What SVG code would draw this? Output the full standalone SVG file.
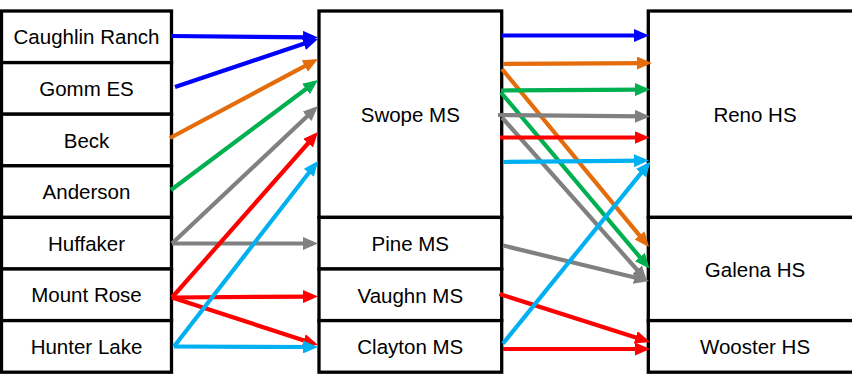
<svg xmlns="http://www.w3.org/2000/svg" width="852" height="376" viewBox="0 0 852 376">
<style>
.box{fill:#fff;stroke:#000;stroke-width:3.3}
.t{font-family:"Liberation Sans",Arial,sans-serif;font-size:20.5px;fill:#000;text-anchor:middle}
.c line{stroke-width:4.2;fill:none}
.bl{stroke:#0000FF;marker-end:url(#mbl)}
.or{stroke:#E46C0A;marker-end:url(#mor)}
.gr{stroke:#00B050;marker-end:url(#mgr)}
.gy{stroke:#808080;marker-end:url(#mgy)}
.rd{stroke:#FF0000;marker-end:url(#mrd)}
.cy{stroke:#00B0F0;marker-end:url(#mcy)}
</style>
<defs>
<marker id="mbl" markerUnits="userSpaceOnUse" markerWidth="15" markerHeight="13" viewBox="0 0 15 13" refX="10" refY="6.5" orient="auto"><path d="M0,0 L15,6.5 L0,13 z" fill="#0000FF"/></marker>
<marker id="mor" markerUnits="userSpaceOnUse" markerWidth="15" markerHeight="13" viewBox="0 0 15 13" refX="10" refY="6.5" orient="auto"><path d="M0,0 L15,6.5 L0,13 z" fill="#E46C0A"/></marker>
<marker id="mgr" markerUnits="userSpaceOnUse" markerWidth="15" markerHeight="13" viewBox="0 0 15 13" refX="10" refY="6.5" orient="auto"><path d="M0,0 L15,6.5 L0,13 z" fill="#00B050"/></marker>
<marker id="mgy" markerUnits="userSpaceOnUse" markerWidth="15" markerHeight="13" viewBox="0 0 15 13" refX="10" refY="6.5" orient="auto"><path d="M0,0 L15,6.5 L0,13 z" fill="#808080"/></marker>
<marker id="mrd" markerUnits="userSpaceOnUse" markerWidth="15" markerHeight="13" viewBox="0 0 15 13" refX="10" refY="6.5" orient="auto"><path d="M0,0 L15,6.5 L0,13 z" fill="#FF0000"/></marker>
<marker id="mcy" markerUnits="userSpaceOnUse" markerWidth="15" markerHeight="13" viewBox="0 0 15 13" refX="10" refY="6.5" orient="auto"><path d="M0,0 L15,6.5 L0,13 z" fill="#00B0F0"/></marker>
</defs>
<rect width="852" height="376" fill="#fff"/>
<g id="caughlin-ranch"><rect class="box" x="1.5" y="11" width="170" height="51.6"/><text class="t" x="86.5" y="44.3">Caughlin Ranch</text></g>
<g id="gomm-es"><rect class="box" x="1.5" y="62.6" width="170" height="51.6"/><text class="t" x="86.5" y="95.9">Gomm ES</text></g>
<g id="beck"><rect class="box" x="1.5" y="114.2" width="170" height="51.6"/><text class="t" x="86.5" y="147.5">Beck</text></g>
<g id="anderson"><rect class="box" x="1.5" y="165.8" width="170" height="51.6"/><text class="t" x="86.5" y="199.1">Anderson</text></g>
<g id="huffaker"><rect class="box" x="1.5" y="217.4" width="170" height="51.6"/><text class="t" x="86.5" y="250.7">Huffaker</text></g>
<g id="mount-rose"><rect class="box" x="1.5" y="269" width="170" height="51.6"/><text class="t" x="86.5" y="302.3">Mount Rose</text></g>
<g id="hunter-lake"><rect class="box" x="1.5" y="320.6" width="170" height="51.6"/><text class="t" x="86.5" y="353.9">Hunter Lake</text></g>
<g id="swope-ms"><rect class="box" x="319" y="11" width="182.7" height="206.4"/><text class="t" x="410.3" y="121.7">Swope MS</text></g>
<g id="pine-ms"><rect class="box" x="319" y="217.4" width="182.7" height="51.6"/><text class="t" x="410.3" y="250.9">Pine MS</text></g>
<g id="vaughn-ms"><rect class="box" x="319" y="269" width="182.7" height="51.6"/><text class="t" x="410.3" y="302.5">Vaughn MS</text></g>
<g id="clayton-ms"><rect class="box" x="319" y="320.6" width="182.7" height="51.6"/><text class="t" x="410.3" y="354.1">Clayton MS</text></g>
<g id="reno-hs"><rect class="box" x="648.3" y="11" width="215" height="206.4"/><text class="t" x="755" y="121.7">Reno HS</text></g>
<g id="galena-hs"><rect class="box" x="648.3" y="217.4" width="215" height="103.2"/><text class="t" x="755" y="276.5">Galena HS</text></g>
<g id="wooster-hs"><rect class="box" x="648.3" y="320.6" width="215" height="51.6"/><text class="t" x="755" y="354.1">Wooster HS</text></g>
<g id="connectors" class="c">
<line class="bl" x1="171" y1="36" x2="313" y2="37.45"/>
<line class="bl" x1="175" y1="87" x2="313.26" y2="40.59"/>
<line class="or" x1="170" y1="138" x2="313.59" y2="61.35"/>
<line class="gr" x1="171" y1="190" x2="314" y2="83"/>
<line class="gy" x1="172" y1="243.5" x2="314.36" y2="109.43"/>
<line class="gy" x1="172" y1="243.5" x2="313" y2="243.5"/>
<line class="rd" x1="172" y1="297.5" x2="314.69" y2="135.75"/>
<line class="rd" x1="172" y1="297.5" x2="313" y2="296.53"/>
<line class="rd" x1="172" y1="297.5" x2="313.24" y2="343.45"/>
<line class="cy" x1="174" y1="346.5" x2="314.93" y2="164.95"/>
<line class="cy" x1="174" y1="346.5" x2="313" y2="347"/>
<line class="or" x1="502" y1="69" x2="645.82" y2="243.15"/>
<line class="gr" x1="501" y1="92.5" x2="646.28" y2="264.68"/>
<line class="gy" x1="502" y1="117.5" x2="643.68" y2="277.26"/>
<line class="bl" x1="502" y1="35.5" x2="644" y2="35.5"/>
<line class="or" x1="503" y1="64" x2="647" y2="63.03"/>
<line class="gr" x1="501" y1="90.5" x2="645" y2="89.53"/>
<line class="gy" x1="498" y1="115" x2="645" y2="116.45"/>
<line class="rd" x1="500" y1="137.5" x2="644.5" y2="137.5"/>
<line class="cy" x1="503" y1="162" x2="644" y2="160.55"/>
<line class="gy" x1="503" y1="245.5" x2="644.14" y2="279.82"/>
<line class="rd" x1="499.5" y1="294" x2="645.24" y2="340.48"/>
<line class="cy" x1="503" y1="343.5" x2="647.35" y2="165.39"/>
<line class="rd" x1="503" y1="349" x2="645" y2="349"/>
</g>
</svg>
